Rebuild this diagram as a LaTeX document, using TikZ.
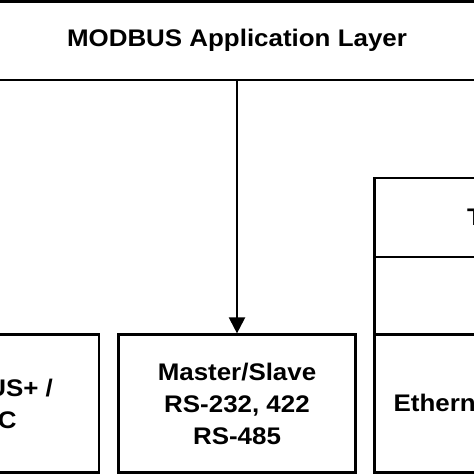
\documentclass[tikz,border=0pt]{standalone}
\usepackage{fontspec}
\setmainfont{Liberation Sans}[FakeStretch=1.08]
\usetikzlibrary{arrows.meta}
\tikzset{
  layerbox/.style={draw=black, line width=2.2pt, rectangle, fill=white, inner sep=0pt,
    align=center, font=\bfseries\fontsize{24}{32}\selectfont},
  flow/.style={line width=2.2pt, -{Triangle[length=16pt,width=16pt]}}
}
\begin{document}
\begin{tikzpicture}[x=1pt,y=-1pt]
\useasboundingbox (0,0) rectangle (474,474);
\clip (0,0) rectangle (474,474);
\fill[white] (0,0) rectangle (474,474);
% application layer
\node[layerbox, minimum width=494pt, minimum height=78.7pt] (app) at (237,40.75) {MODBUS Application Layer};
% lower row
\node[layerbox, minimum width=237pt, minimum height=138pt] (mbplus) at (-19.5,403.5) {MODBUS+ /\\HDLC};
\node[layerbox, minimum width=237pt, minimum height=138pt] (ms) at (237,403.5) {Master/Slave\\RS-232, 422\\RS-485};
% right column
\node[layerbox, minimum width=237pt, minimum height=79pt] (tcp) at (493,217.5) {TCP};
\node[layerbox, minimum width=237pt, minimum height=77.5pt] (ip) at (493,295.75) {IP};
\node[layerbox, minimum width=237pt, minimum height=138pt] (eth) at (493,403.5) {Ethernet II/802.3};
% connector
\draw[flow] (app.south) -- (ms.north);
\end{tikzpicture}
\end{document}
